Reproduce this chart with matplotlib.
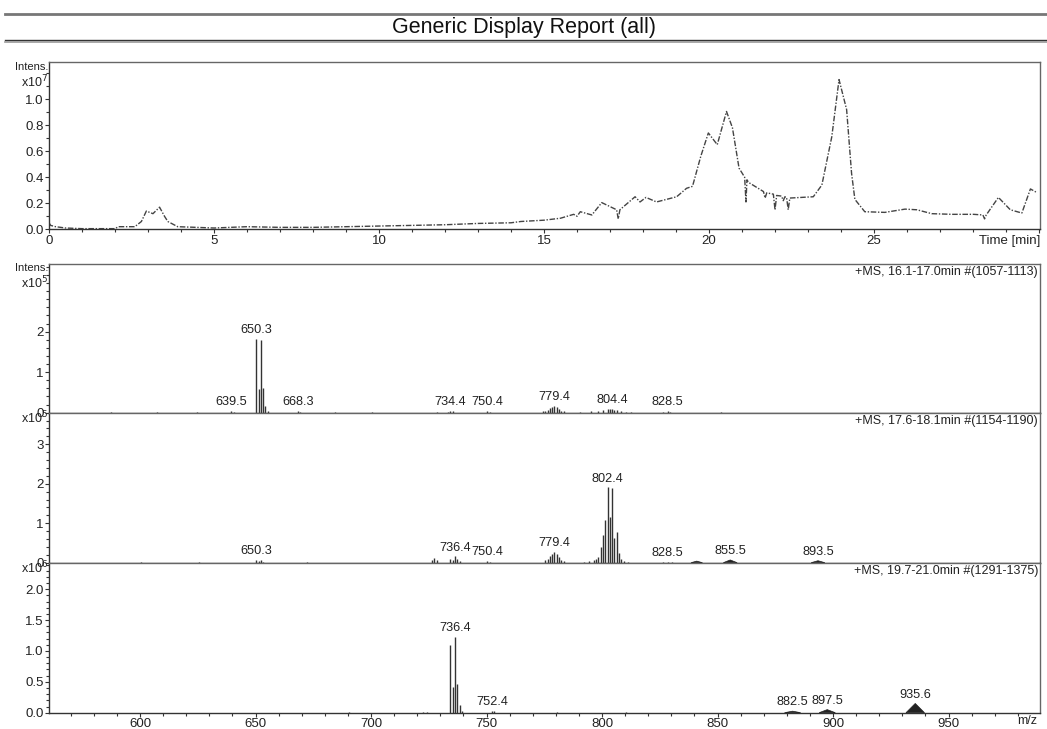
import matplotlib
matplotlib.use("Agg")
import matplotlib.pyplot as plt
from matplotlib.lines import Line2D
from matplotlib.ticker import MultipleLocator, FixedLocator

plt.rcParams['font.family'] = ['Liberation Sans', 'DejaVu Sans']

# --- chromatogram (TIC), intensity x1e7 ---
tic_time = [0.0, 0.05, 0.2, 0.5, 1.0, 1.5, 2.0, 2.1, 2.6, 2.8, 2.95, 3.15, 3.35, 3.5, 3.6, 3.9,
            5.0, 6.0, 7.0, 8.0, 9.0, 10.0, 11.0, 12.0, 13.0, 14.0, 14.3, 15.0, 15.5, 15.9, 16.0,
            16.1, 16.45, 16.75, 17.2, 17.25, 17.3, 17.76, 17.91, 18.09, 18.41, 19.02, 19.32,
            19.5, 19.75, 19.98, 20.25, 20.53, 20.71, 20.91, 21.08, 21.12, 21.15, 21.2, 21.65,
            21.7, 21.75, 21.95, 22.0, 22.05, 22.2, 22.25, 22.3, 22.35, 22.4, 22.45, 23.16, 23.42,
            23.72, 23.94, 24.17, 24.32, 24.42, 24.72, 25.33, 25.94, 26.3, 26.75, 27.36, 28.02,
            28.3, 28.35, 28.4, 28.77, 29.13, 29.48, 29.74, 29.95]
tic_int = [0.05, 0.03, 0.02, 0.01, 0.005, 0.005, 0.005, 0.02, 0.02, 0.06, 0.14, 0.12, 0.17, 0.1, 0.06, 0.02,
           0.01, 0.02, 0.015, 0.015, 0.02, 0.025, 0.03, 0.035, 0.045, 0.05, 0.06, 0.07, 0.085, 0.115, 0.1,
           0.135, 0.11, 0.205, 0.15, 0.08, 0.15, 0.25, 0.21, 0.245, 0.21, 0.25, 0.315,
           0.33, 0.56, 0.74, 0.65, 0.905, 0.78, 0.47, 0.40, 0.21, 0.38, 0.36, 0.29,
           0.24, 0.28, 0.27, 0.15, 0.26, 0.255, 0.22, 0.25, 0.245, 0.15, 0.24, 0.25, 0.34,
           0.71, 1.15, 0.92, 0.43, 0.23, 0.135, 0.13, 0.155, 0.15, 0.12, 0.115, 0.115,
           0.11, 0.08, 0.11, 0.245, 0.15, 0.125, 0.31, 0.28]

# --- MS spectra: stick peaks (m/z, intensity) ---
ms1_mz = [587.4, 607.5, 624.5, 639.5, 640.5, 650.3, 651.3, 652.3, 653.3, 654.3, 655.3, 668.3, 669.3,
          684.5, 700.5, 728.4, 733.4, 734.4, 735.4, 750.4, 751.4, 774.4, 775.4, 776.4, 777.4,
          778.4, 779.4, 780.4, 781.4, 782.4, 783.4, 790.4, 795.4, 798.4, 800.4, 802.4, 803.4,
          804.4, 805.4, 806.4, 808.4, 810.4, 812.4, 826.5, 828.5, 829.5, 851.5]
ms1_int = [0.01, 0.02, 0.01, 0.05, 0.02, 1.82, 0.58, 1.80, 0.61, 0.16, 0.03, 0.04, 0.02,
           0.01, 0.01, 0.02, 0.02, 0.05, 0.03, 0.04, 0.02, 0.03, 0.05, 0.07, 0.11,
           0.14, 0.17, 0.13, 0.09, 0.05, 0.03, 0.02, 0.03, 0.04, 0.06, 0.08, 0.09,
           0.10, 0.07, 0.06, 0.04, 0.02, 0.02, 0.02, 0.04, 0.02, 0.01]
ms1_labels = [639.5, 650.3, 668.3, 734.4, 750.4, 779.4, 804.4, 828.5]

ms2_mz = [600.4, 625.4, 650.3, 651.3, 652.3, 653.3, 672.4, 726.4, 727.4, 728.4, 734.4, 735.4,
          736.4, 737.4, 738.4, 750.4, 751.4, 775.4, 776.4, 777.4, 778.4, 779.4, 780.4, 781.4,
          782.4, 783.4, 792.4, 794.4, 796.4, 797.4, 798.4, 799.4, 800.4, 801.4, 802.4, 803.4,
          804.4, 805.4, 806.4, 807.4, 808.4, 809.4, 811.4, 826.5, 828.5, 830.5]
ms2_int = [0.01, 0.01, 0.08, 0.04, 0.07, 0.03, 0.01, 0.08, 0.12, 0.06, 0.10, 0.06,
           0.16, 0.10, 0.05, 0.04, 0.03, 0.06, 0.10, 0.17, 0.22, 0.28, 0.22, 0.14,
           0.08, 0.04, 0.03, 0.04, 0.06, 0.10, 0.15, 0.39, 0.70, 1.08, 1.91, 1.17,
           1.89, 0.62, 0.78, 0.25, 0.10, 0.05, 0.03, 0.02, 0.03, 0.02]
ms2_blob_mz = [841.0, 855.5, 893.5]
ms2_blob_int = [0.04, 0.07, 0.05]
ms2_blob_w = [2.5, 3.0, 3.0]
ms2_labels = [650.3, 736.4, 750.4, 779.4, 802.4, 828.5, 855.5, 893.5]

ms3_mz = [690.4, 722.4, 724.4, 734.4, 735.4, 736.4, 737.4, 738.4, 739.4, 752.4, 753.4, 780.4, 810.5]
ms3_int = [0.005, 0.01, 0.01, 1.10, 0.42, 1.23, 0.47, 0.12, 0.03, 0.03, 0.02, 0.01, 0.005]
ms3_blob_mz = [882.5, 897.5, 935.6]
ms3_blob_int = [0.025, 0.05, 0.15]
ms3_blob_w = [3.5, 3.5, 4.0]
ms3_labels = [736.4, 752.4, 882.5, 897.5, 935.6]

ms_titles = ['+MS, 16.1-17.0min #(1057-1113)',
             '+MS, 17.6-18.1min #(1154-1190)',
             '+MS, 19.7-21.0min #(1291-1375)']
ms_exp = [5, 5, 6]

W, H = 1047, 729
fig = plt.figure(figsize=(W / 100, H / 100), dpi=100)
fc = '#222222'
spine_c = '#666666'


def fx(px):
    return px / W


def fy(py):
    return 1 - py / H


# header lines and title
fig.add_artist(Line2D([fx(5), 1], [fy(13.5), fy(13.5)], color='#777777', lw=2))
fig.add_artist(Line2D([fx(5), 1], [fy(40), fy(40)], color='#333333', lw=1))
fig.add_artist(Line2D([fx(5), 1], [fy(42), fy(42)], color='#999999', lw=1.2))
fig.text(0.5, fy(27), 'Generic Display Report (all)', ha='center', va='center',
         fontsize=15.5, color='#111111')


def style_axes(ax):
    for s in ax.spines.values():
        s.set_color(spine_c)
        s.set_linewidth(1)
    ax.spines['left'].set_color('#333333')
    ax.spines['bottom'].set_color('#333333')
    ax.tick_params(which='both', direction='out', colors='#333333', labelcolor=fc,
                   labelsize=9.5, width=0.8)
    ax.tick_params(which='major', length=3, pad=1)
    ax.tick_params(which='minor', length=2)


# chromatogram
left, right = 49, 1040
ax0 = fig.add_axes([fx(left), fy(229.3), fx(right - left), fy(62) - fy(229.3)])
ax0.plot(tic_time, tic_int, color='#444444', lw=1, linestyle=(0, (4, 1.2, 1, 1.2)))
ax0.set_xlim(0, 30.03)
ax0.set_ylim(0, 1.285)
ax0.xaxis.set_major_locator(FixedLocator([0, 5, 10, 15, 20, 25, 30]))
ax0.set_xticklabels(['0', '5', '10', '15', '20', '25', ''])
ax0.xaxis.set_minor_locator(MultipleLocator(1))
ax0.yaxis.set_major_locator(FixedLocator([0, 0.2, 0.4, 0.6, 0.8, 1.0]))
ax0.set_yticklabels(['0.0', '0.2', '0.4', '0.6', '0.8', '1.0'])
ax0.yaxis.set_minor_locator(MultipleLocator(0.1))
style_axes(ax0)
fig.text(fx(48), fy(67), 'Intens.', ha='right', va='center', fontsize=8, color=fc)
fig.text(fx(48), fy(82), 'x10$^7$', ha='right', va='center', fontsize=9, color=fc)
fig.text(fx(1040), fy(241), 'Time [min]', ha='right', va='center', fontsize=9.5, color=fc)

# spectra
panels = [
    (ms1_mz, ms1_int, [], [], [], ms1_labels, 264, 412.7, 3.67, [0, 1, 2], ['0', '1', '2'], 0.2),
    (ms2_mz, ms2_int, ms2_blob_mz, ms2_blob_int, ms2_blob_w, ms2_labels, 412.7, 562.7, 3.8,
     [0, 1, 2, 3], ['0', '1', '2', '3'], 0.2),
    (ms3_mz, ms3_int, ms3_blob_mz, ms3_blob_int, ms3_blob_w, ms3_labels, 562.7, 712.7, 2.43,
     [0, 0.5, 1.0, 1.5, 2.0], ['0.0', '0.5', '1.0', '1.5', '2.0'], 0.1),
]

for i, (mz, inten, bmz, bint, bw, labels, top, bot, ymax, yt, ytl, ymin_step) in enumerate(panels):
    ax = fig.add_axes([fx(left), fy(bot), fx(right - left), fy(top) - fy(bot)])
    ax.vlines(mz, 0, inten, color='#333333', lw=1)
    for m, h, w in zip(bmz, bint, bw):
        ax.fill([m - w, m, m + w], [0, h, 0], color='#222222', lw=0.5)
    ax.set_xlim(560.6, 989.6)
    ax.set_ylim(0, ymax)
    ax.yaxis.set_major_locator(FixedLocator(yt))
    ax.set_yticklabels(ytl)
    ax.yaxis.set_minor_locator(MultipleLocator(ymin_step))
    style_axes(ax)
    if i < 2:
        ax.tick_params(axis='x', which='both', length=0, labelbottom=False)
    else:
        ax.xaxis.set_major_locator(MultipleLocator(50))
        ax.xaxis.set_minor_locator(MultipleLocator(10))
        ax.tick_params(axis='x', pad=0.5)
        fig.text(fx(1037), fy(721), 'm/z', ha='right', va='center', fontsize=9, color=fc)
    # peak labels
    for lab in labels:
        hs = [v for m, v in zip(mz, inten) if abs(m - lab) <= 1.0]
        hs += [v for m, v in zip(bmz, bint) if abs(m - lab) <= 1.0]
        h = max(hs) if hs else 0
        ax.annotate(f'{lab:.1f}', (lab, h), xytext=(0, 2), textcoords='offset points',
                    ha='center', va='bottom', fontsize=9.2, color=fc)
    ax.text(0.998, 0.985, ms_titles[i], transform=ax.transAxes, ha='right', va='top',
            fontsize=9, color=fc)
    if i == 0:
        fig.text(fx(48), fy(268), 'Intens.', ha='right', va='center', fontsize=8, color=fc)
        fig.text(fx(48), fy(283), f'x10$^{ms_exp[i]}$', ha='right', va='center',
                 fontsize=9, color=fc)
    else:
        fig.text(fx(48), fy(top + 5), f'x10$^{ms_exp[i]}$', ha='right', va='center',
                 fontsize=9, color=fc)

fig.savefig('out.png', dpi=100)
